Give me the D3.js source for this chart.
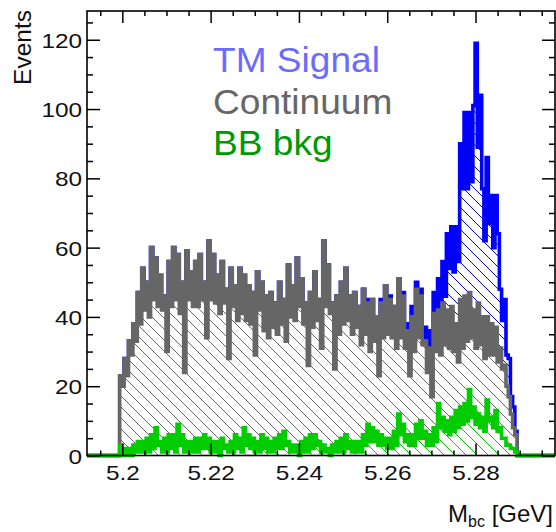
<!DOCTYPE html>
<html>
<head>
<meta charset="utf-8">
<script src="https://cdn.jsdelivr.net/npm/d3@7"></script>
<style>
  html, body { margin: 0; padding: 0; background: #ffffff; }
  svg { display: block; }
  text { font-family: "Liberation Sans", Arial, Helvetica, sans-serif; }
</style>
</head>
<body>
<svg id="chart" width="556" height="532"></svg>
<script>
// Histogram binning (GeV)
const histLow = 5.1994;
const binWidth = 0.0005;

// Per-bin event counts, one entry per bin (180 bins)
const bbBkg = [
  3, 0, 2, 0, 2, 0, 3, 1, 4, 1, 4, 1, 5, 1, 6, 2, 8, 3, 4, 1,
  5, 1, 6, 2, 6, 1, 9, 3, 6, 1, 4, 1, 4, 1, 5, 1, 5, 2, 6, 2,
  5, 1, 4, 1, 4, 0, 5, 2, 3, 1, 4, 1, 6, 2, 5, 1, 8, 3, 6, 2,
  5, 1, 4, 1, 6, 2, 5, 1, 4, 1, 5, 2, 6, 2, 7, 3, 4, 1, 3, 1,
  3, 0, 4, 1, 5, 1, 6, 2, 6, 3, 4, 1, 3, 1, 2, 0, 3, 1, 4, 1,
  5, 1, 6, 2, 4, 1, 4, 1, 4, 1, 6, 3, 9, 4, 8, 4, 7, 3, 6, 3,
  5, 2, 5, 2, 7, 3, 12, 6, 9, 4, 6, 3, 6, 3, 9, 5, 10, 5, 7, 3,
  6, 3, 8, 4, 15, 8, 11, 7, 10, 6, 11, 7, 13, 8, 14, 9, 15, 10, 19, 11,
  14, 9, 12, 8, 11, 7, 16, 10, 11, 8, 13, 7, 8, 5, 5, 3, 3, 2, 2, 1
];
const continuum = [
  20, 20, 26, 23, 31, 29, 35, 32, 43, 37, 50, 41, 45, 39, 54, 43, 49, 40, 48, 41,
  41, 29, 50, 41, 54, 44, 49, 38, 44, 23, 55, 44, 49, 42, 51, 42, 53, 43, 44, 32,
  57, 44, 54, 43, 48, 41, 51, 42, 45, 27, 50, 42, 43, 37, 49, 40, 44, 36, 43, 36,
  42, 28, 49, 41, 44, 34, 41, 33, 43, 36, 39, 33, 44, 36, 38, 30, 51, 39, 46, 38,
  54, 43, 47, 37, 39, 25, 41, 35, 47, 36, 41, 30, 59, 42, 53, 41, 41, 24, 42, 34,
  45, 37, 48, 37, 42, 34, 43, 36, 39, 31, 42, 32, 35, 26, 37, 29, 33, 20, 38, 31,
  44, 33, 40, 32, 36, 28, 39, 28, 37, 27, 30, 20, 34, 27, 39, 29, 36, 27, 26, 21,
  25, 14, 33, 26, 27, 21, 33, 25, 32, 25, 32, 23, 25, 19, 31, 22, 31, 23, 28, 23,
  28, 22, 32, 24, 29, 21, 24, 19, 27, 21, 24, 20, 23, 20, 21, 17, 14, 10, 6, 5
];
const tmSignal = [
  0, 0, 0, 0, 0, 0, 0, 0, 0, 0, 0, 0, 0, 0, 0, 0, 0, 0, 0, 0,
  0, 0, 0, 0, 0, 0, 0, 0, 0, 0, 0, 0, 0, 0, 0, 0, 0, 0, 0, 0,
  0, 0, 0, 0, 0, 0, 0, 0, 0, 0, 0, 0, 0, 0, 0, 0, 0, 0, 0, 0,
  0, 0, 0, 0, 0, 0, 0, 0, 0, 0, 0, 0, 0, 0, 0, 0, 0, 0, 0, 0,
  0, 0, 0, 0, 0, 0, 0, 0, 0, 0, 0, 0, 0, 0, 0, 0, 0, 0, 0, 0,
  0, 0, 0, 0, 0, 0, 0, 0, 0, 0, 0, 0, 1, 0, 0, 0, 0, 0, 1, 0,
  0, 0, 1, 0, 0, 0, 0, 0, 1, 1, 2, 1, 3, 2, 2, 3, 2, 2, 4, 5,
  5, 9, 6, 9, 9, 12, 12, 14, 22, 23, 23, 23, 28, 29, 45, 46, 53, 44, 52, 45,
  59, 88, 45, 72, 37, 34, 46, 38, 37, 31, 38, 37, 17, 14, 19, 9, 11, 5, 6, 1
];

// Axis ticks
const xMajorTicks = [5.2, 5.22, 5.24, 5.26, 5.28];
const xTickLabels = ["5.2", "5.22", "5.24", "5.26", "5.28"];
const xMinorTicks = [5.195, 5.205, 5.21, 5.215, 5.225, 5.23, 5.235, 5.245, 5.25, 5.255,
                     5.265, 5.27, 5.275, 5.285, 5.29, 5.295];
const yMajorTicks = [0, 20, 40, 60, 80, 100, 120];
const yMinorTicks = [5, 10, 15, 25, 30, 35, 45, 50, 55, 65, 70, 75, 85, 90, 95, 105, 110, 115, 125];

// Legend entries
const legendLabels = ["TM Signal", "Continuum", "BB bkg"];

// ---------------------------------------------------------------------------
const frame = { left: 87, right: 555, top: 11, bottom: 455.5 };
const xDomain = [5.192, 5.298];
const yDomain = [0, 128.3];

const svg = d3.select("#chart");
const x = d3.scaleLinear().domain(xDomain).range([frame.left, frame.right]);
const y = d3.scaleLinear().domain(yDomain).range([frame.bottom, frame.top]);

// stacked layers: bkg at the bottom, continuum, then signal on top
const nBins = bbBkg.length;
const rows = d3.range(nBins).map(i => ({
  lo: histLow + i * binWidth,
  hi: histLow + (i + 1) * binWidth,
  bkg: bbBkg[i], cont: continuum[i], sig: tmSignal[i]
}));
const stack = d3.stack().keys(["bkg", "cont", "sig"])(rows);
const cumBkg = stack[0].map(d => d[1]);
const cumCont = stack[1].map(d => d[1]);
const cumAll = stack[2].map(d => d[1]);

// drawn back to front: full stack, continuum + bkg, bkg alone
const layers = [
  { vals: cumAll, color: "#0000ff", id: "hatchSig" },
  { vals: cumCont, color: "#666666", id: "hatchCont" },
  { vals: cumBkg, color: "#00cc00", id: "hatchBkg" }
];

const defs = svg.append("defs");
defs.append("clipPath").attr("id", "frameClip")
  .append("rect")
  .attr("x", frame.left).attr("y", frame.top)
  .attr("width", frame.right - frame.left)
  .attr("height", frame.bottom - frame.top + 3);

layers.forEach(s => {
  const p = defs.append("pattern")
    .attr("id", s.id)
    .attr("patternUnits", "userSpaceOnUse")
    .attr("width", 11).attr("height", 11);
  p.append("rect").attr("width", 11).attr("height", 11).attr("fill", "#ffffff");
  p.append("path")
    .attr("d", "M0,0 L11,11 M-2,9 L2,13 M9,-2 L13,2")
    .attr("stroke", s.color).attr("stroke-width", 1)
    .attr("fill", "none");
});

// staircase outline of one histogram across the whole frame range
function stairPoints(vals) {
  const pts = [[xDomain[0], 0], [rows[0].lo, 0]];
  vals.forEach((v, i) => {
    pts.push([rows[i].lo, v]);
    pts.push([rows[i].hi, v]);
  });
  pts.push([rows[nBins - 1].hi, 0]);
  pts.push([xDomain[1], 0]);
  return pts;
}
const line = d3.line().x(d => x(d[0])).y(d => y(d[1]));

const plot = svg.append("g").attr("clip-path", "url(#frameClip)");
layers.forEach(s => {
  const pts = stairPoints(s.vals);
  plot.append("path")
    .attr("d", line(pts) + "Z")
    .attr("fill", `url(#${s.id})`)
    .attr("stroke", "none");
  plot.append("path")
    .attr("d", line(pts))
    .attr("fill", "none")
    .attr("stroke", s.color)
    .attr("stroke-width", 3.6)
    .attr("stroke-linejoin", "miter");
});

// ---------------------------------------------------------------------------
// Axes with ticks pointing into the frame
const tickStretch = 1.16;
const gx = svg.append("g").attr("transform", `translate(0,${frame.bottom})`)
  .call(d3.axisBottom(x).tickValues(xMajorTicks)
    .tickFormat((d, i) => xTickLabels[i]).tickSizeInner(-12).tickSizeOuter(0));
svg.append("g").attr("transform", `translate(0,${frame.bottom})`)
  .call(d3.axisBottom(x).tickValues(xMinorTicks).tickFormat("").tickSizeInner(-5).tickSizeOuter(0));
svg.append("g").attr("transform", `translate(0,${frame.top})`)
  .call(d3.axisTop(x).tickValues(xMajorTicks).tickFormat("").tickSizeInner(-12).tickSizeOuter(0));
svg.append("g").attr("transform", `translate(0,${frame.top})`)
  .call(d3.axisTop(x).tickValues(xMinorTicks).tickFormat("").tickSizeInner(-5).tickSizeOuter(0));

const gy = svg.append("g").attr("transform", `translate(${frame.left},0)`)
  .call(d3.axisLeft(y).tickValues(yMajorTicks).tickFormat(d3.format("d"))
    .tickSizeInner(-13).tickSizeOuter(0));
svg.append("g").attr("transform", `translate(${frame.left},0)`)
  .call(d3.axisLeft(y).tickValues(yMinorTicks).tickFormat("").tickSizeInner(-6).tickSizeOuter(0));
svg.append("g").attr("transform", `translate(${frame.right},0)`)
  .call(d3.axisRight(y).tickValues(yMajorTicks).tickFormat("").tickSizeInner(-13).tickSizeOuter(0));
svg.append("g").attr("transform", `translate(${frame.right},0)`)
  .call(d3.axisRight(y).tickValues(yMinorTicks).tickFormat("").tickSizeInner(-6).tickSizeOuter(0));

svg.selectAll(".domain").remove();
svg.selectAll(".tick line").attr("stroke", "#000").attr("stroke-width", 1.5);

gx.selectAll(".tick text")
  .attr("font-size", 21).attr("fill", "#111")
  .attr("font-family", "Liberation Sans, Arial, sans-serif")
  .attr("dy", null).attr("y", 25)
  .attr("transform", `scale(${tickStretch},1)`);
gy.selectAll(".tick text")
  .attr("font-size", 21).attr("fill", "#111")
  .attr("font-family", "Liberation Sans, Arial, sans-serif")
  .attr("x", -4.3).attr("dy", "0.36em")
  .attr("transform", `scale(${tickStretch},1)`);

// frame box
svg.append("rect")
  .attr("x", frame.left).attr("y", frame.top)
  .attr("width", frame.right - frame.left).attr("height", frame.bottom - frame.top)
  .attr("fill", "none").attr("stroke", "#000").attr("stroke-width", 1.6);

// axis titles
svg.append("text")
  .attr("transform", `translate(31,${frame.top - 1}) rotate(-90)`)
  .attr("text-anchor", "end")
  .attr("font-size", 24.5).attr("fill", "#111")
  .text("Events");

const xt = svg.append("text")
  .attr("x", 553).attr("y", 522)
  .attr("text-anchor", "end")
  .attr("font-size", 24).attr("fill", "#111");
xt.append("tspan").text("M");
xt.append("tspan").attr("font-size", 16).attr("dy", 5).text("bc");
xt.append("tspan").attr("dy", -5).text(" [GeV]");

// legend
const legendColors = ["#6b6bff", "#666666", "#009900"];
svg.append("g").selectAll("text")
  .data(legendLabels).join("text")
  .attr("x", 213)
  .attr("y", (d, i) => 72 + i * 41.7)
  .attr("font-size", 35)
  .attr("fill", (d, i) => legendColors[i])
  .attr("transform", "translate(213,0) scale(1.06,1) translate(-213,0)")
  .text(d => d);
</script>
</body>
</html>
